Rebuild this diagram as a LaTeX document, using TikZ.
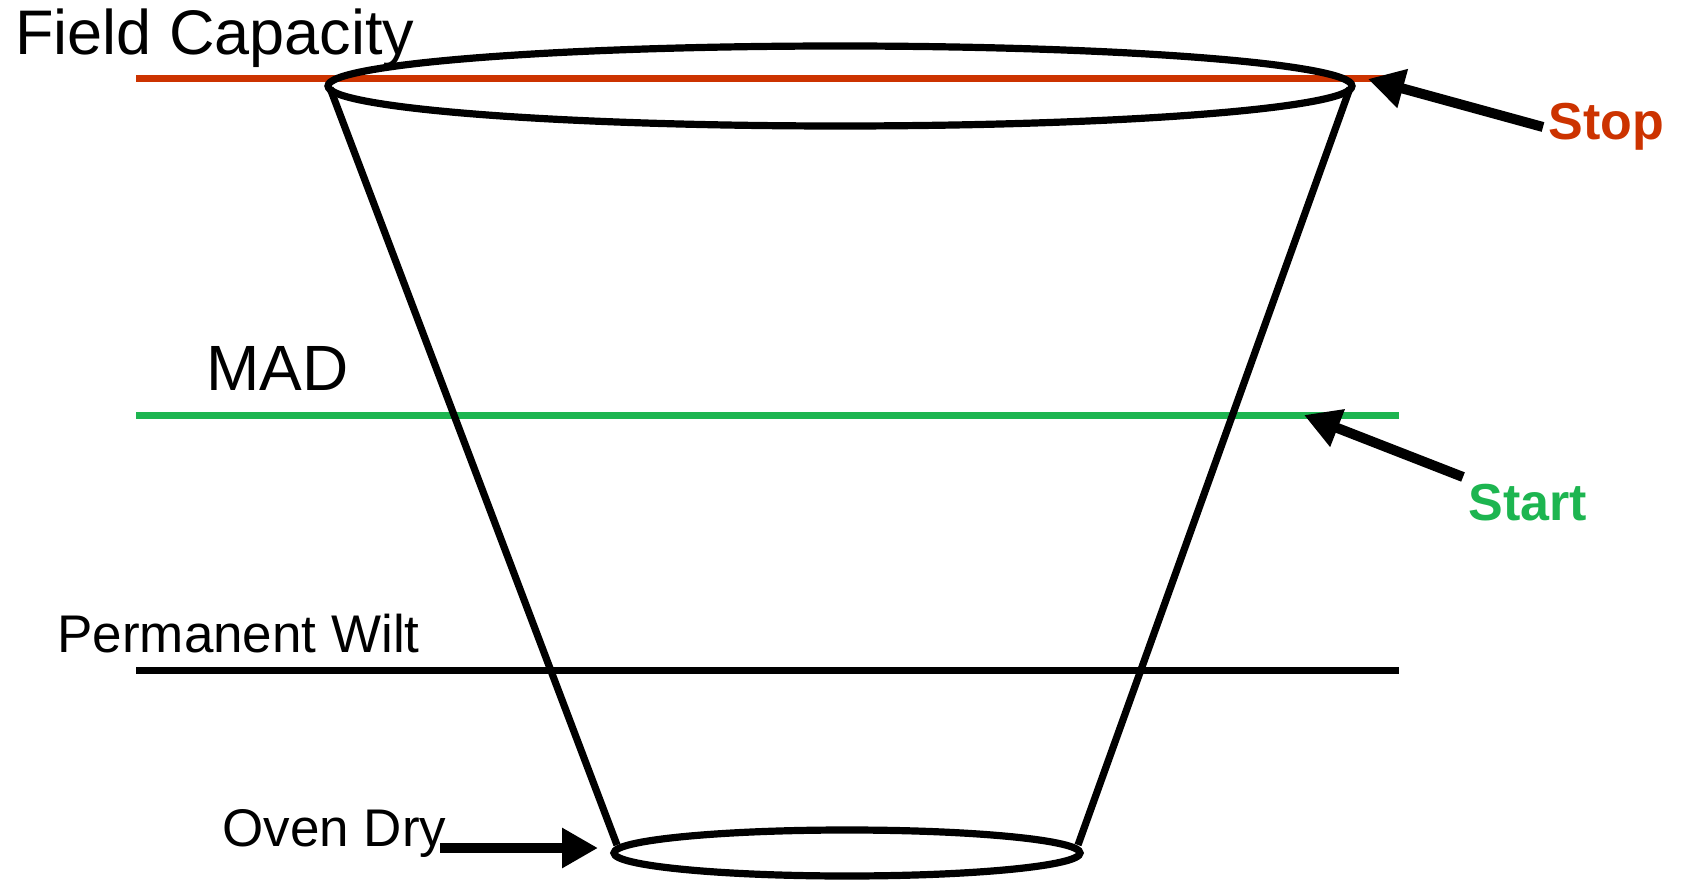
\documentclass[tikz,border=0pt]{standalone}
\usepackage{fontspec}
\setmainfont{Liberation Sans}
\usetikzlibrary{arrows.meta}
\definecolor{stopred}{RGB}{204,51,0}
\definecolor{startgreen}{RGB}{29,181,80}
\tikzset{
  lbl/.style={inner sep=0pt, anchor=base west, text=black},
  level/.style={line width=3.5pt},
  outline/.style={line width=3.6pt, draw=black},
  bigarrow/.style={line width=5pt, -{Triangle[length=18pt,width=19pt]}},
}
\begin{document}
\begin{tikzpicture}[x=0.5pt,y=-0.5pt]
\useasboundingbox (0,0) rectangle (1682,882);
% level lines
\coordinate (fcL) at (136,79);
\coordinate (fcR) at (1385,79);
\coordinate (madL) at (136,415);
\coordinate (madR) at (1399,415);
\coordinate (pwL) at (136,670);
\coordinate (pwR) at (1399,670);
\draw[level, stopred] (fcL) -- (fcR);
\draw[level, startgreen] (madL) -- (madR);
\draw[level, black] (pwL) -- (pwR);
% cup
\coordinate (topL) at (330,88);
\coordinate (topR) at (1350,88);
\coordinate (botL) at (617,845);
\coordinate (botR) at (1078,845);
\draw[outline] (topL) -- (botL);
\draw[outline] (topR) -- (botR);
\draw[outline] (840,86) ellipse [x radius=512, y radius=40];
\draw[outline] (847,853) ellipse [x radius=233, y radius=23];
% labels
\node[lbl, font=\fontsize{31.5pt}{36pt}\selectfont] (fc) at (15,55) {Field Capacity};
\node[lbl, font=\fontsize{32pt}{36pt}\selectfont] (mad) at (206,391) {MAD};
\node[lbl, font=\fontsize{26.5pt}{30pt}\selectfont] (pw) at (57,652) {Permanent Wilt};
\node[lbl, font=\fontsize{26.5pt}{30pt}\selectfont] (od) at (222,846) {Oven Dry};
\node[lbl, font=\bfseries\fontsize{26pt}{30pt}\selectfont, text=stopred] (stop) at (1548,140) {Stop};
\node[lbl, font=\bfseries\fontsize{26pt}{30pt}\selectfont, text=startgreen] (start) at (1468,520) {Start};
% arrows
\coordinate (stopTail) at (1543,127);
\coordinate (stopTip) at (1368,79);
\coordinate (startTail) at (1463,477);
\coordinate (startTip) at (1304,415);
\coordinate (odTail) at (440,848);
\coordinate (odTip) at (598,848);
\draw[bigarrow] (stopTail) -- (stopTip);
\draw[bigarrow] (startTail) -- (startTip);
\draw[bigarrow] (odTail) -- (odTip);
\end{tikzpicture}
\end{document}
